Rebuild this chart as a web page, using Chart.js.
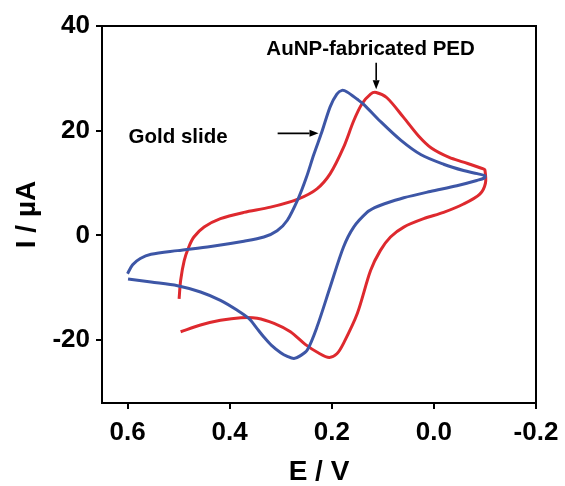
<!DOCTYPE html>
<html>
<head>
<meta charset="utf-8">
<title>Cyclic voltammograms</title>
<script src="https://cdn.jsdelivr.net/npm/chart.js"></script>
<style>
  html, body { margin: 0; padding: 0; background: #fff; }
  canvas { display: block; }
</style>
</head>
<body>
<canvas id="cv" width="565" height="486"></canvas>
<script>
// gold slide: forward sweep 0.6 -> -0.1 V, then back to 0.6 V
const goldE = [0.600, 0.590, 0.575, 0.554, 0.502, 0.437, 0.372, 0.333, 0.307, 0.287, 0.265, 0.250, 0.235, 0.220, 0.203, 0.190, 0.180,
  0.170, 0.150, 0.137, 0.105, 0.065, 0.025, -0.019, -0.058, -0.085, -0.100,
  -0.099, -0.084, -0.045, 0.007, 0.059, 0.098, 0.116, 0.131, 0.157, 0.177, 0.203, 0.229, 0.248, 0.262, 0.274,
  0.287, 0.300, 0.318, 0.333, 0.347, 0.362, 0.385, 0.418, 0.457, 0.502, 0.554, 0.599];
const goldI = [-7.3, -5.6, -4.4, -3.6, -2.9, -2.1, -1.1, -0.3, 0.9, 2.9, 7.2, 11.0, 15.5, 19.6, 24.6, 27.0, 27.7,
  27.4, 26.0, 25.0, 21.8, 18.2, 15.4, 13.6, 12.4, 11.8, 11.4,
  11.0, 10.5, 9.5, 8.4, 7.2, 6.0, 5.3, 4.4, 1.6, -2.2, -9.8, -17.5, -21.9, -23.0, -23.5,
  -23.1, -22.4, -21.0, -19.4, -17.7, -15.9, -14.3, -12.4, -10.8, -9.6, -8.9, -8.3];

// AuNP-fabricated PED: 0.5 -> -0.1 V and back to 0.5 V
const pedE = [0.499, 0.496, 0.489, 0.480, 0.470, 0.450, 0.418, 0.372, 0.320, 0.265, 0.229, 0.203, 0.177, 0.157, 0.141, 0.124, 0.113,
  0.092, 0.059, 0.030, 0.005, -0.030, -0.058, -0.097, -0.100,
  -0.101, -0.090, -0.058, -0.019, 0.020, 0.059, 0.085, 0.105, 0.124, 0.150, 0.177, 0.190, 0.205,
  0.225, 0.252, 0.281, 0.313, 0.346, 0.378, 0.418, 0.457, 0.496];
const pedI = [-12.1, -8.6, -4.8, -2.2, -0.3, 1.6, 3.2, 4.4, 5.4, 7.0, 8.9, 11.8, 16.8, 21.9, 25.1, 27.0, 27.3,
  26.3, 22.5, 19.0, 16.7, 14.9, 14.0, 12.7, 12.5,
  10.0, 7.9, 6.0, 4.4, 3.2, 1.6, -0.3, -2.9, -6.7, -14.9, -20.6, -22.6, -23.3,
  -22.5, -20.8, -18.4, -16.8, -15.8, -15.7, -16.2, -17.1, -18.4];

const xTicks = [0.6, 0.4, 0.2, 0.0, -0.2];
const yTicks = [40, 20, 0, -20];

const toPoints = (es, is) => es.map((e, i) => ({ x: e, y: is[i] }));

const FONT = "'Liberation Sans', Arial, sans-serif";

function arrow(ctx, x1, y1, x2, y2) {
  const ang = Math.atan2(y2 - y1, x2 - x1);
  const len = 9, half = 3.5;
  ctx.beginPath();
  ctx.moveTo(x1, y1);
  ctx.lineTo(x2 - Math.cos(ang) * len, y2 - Math.sin(ang) * len);
  ctx.stroke();
  ctx.beginPath();
  ctx.moveTo(x2, y2);
  ctx.lineTo(x2 - Math.cos(ang) * len - Math.sin(ang) * half, y2 - Math.sin(ang) * len + Math.cos(ang) * half);
  ctx.lineTo(x2 - Math.cos(ang) * len + Math.sin(ang) * half, y2 - Math.sin(ang) * len - Math.cos(ang) * half);
  ctx.closePath();
  ctx.fill();
}

// frame around the plot plus the two labels with their arrows
const frameAndLabels = {
  id: 'frameAndLabels',
  afterDatasetsDraw(chart) {
    const { ctx, chartArea: a, scales: { x, y } } = chart;
    ctx.save();
    ctx.strokeStyle = '#000';
    ctx.fillStyle = '#000';
    ctx.lineWidth = 2;
    ctx.strokeRect(a.left, a.top, a.right - a.left, a.bottom - a.top);

    ctx.font = 'bold 20.5px ' + FONT;
    ctx.textBaseline = 'middle';
    ctx.textAlign = 'left';
    ctx.fillText('Gold slide', x.getPixelForValue(0.598), y.getPixelForValue(18.7));
    ctx.textAlign = 'center';
    ctx.fillText('AuNP-fabricated PED', x.getPixelForValue(0.124), y.getPixelForValue(35.6));

    ctx.lineWidth = 1.6;
    arrow(ctx, x.getPixelForValue(0.306), y.getPixelForValue(19.5), x.getPixelForValue(0.226), y.getPixelForValue(19.5));
    arrow(ctx, x.getPixelForValue(0.113), y.getPixelForValue(33.0), x.getPixelForValue(0.113), y.getPixelForValue(27.9));
    ctx.restore();
  }
};

new Chart(document.getElementById('cv'), {
  type: 'scatter',
  data: {
    datasets: [
      {
        label: 'Gold slide',
        data: toPoints(goldE, goldI),
        showLine: true,
        borderColor: '#3d56a6',
        backgroundColor: '#3d56a6',
        borderWidth: 3,
        pointRadius: 0,
        tension: 0.3
      },
      {
        label: 'AuNP-fabricated PED',
        data: toPoints(pedE, pedI),
        showLine: true,
        borderColor: '#de292e',
        backgroundColor: '#de292e',
        borderWidth: 3,
        pointRadius: 0,
        tension: 0.3
      }
    ]
  },
  options: {
    responsive: false,
    animation: false,
    layout: { padding: { top: 26, right: 29, left: 0, bottom: 0 } },
    plugins: {
      legend: { display: false },
      tooltip: { enabled: false }
    },
    scales: {
      x: {
        type: 'linear',
        reverse: true,
        min: -0.2,
        max: 0.65,
        afterBuildTicks: (s) => { s.ticks = xTicks.map(v => ({ value: v })); },
        afterFit: (s) => { s.height = 83; s.paddingLeft = 0; s.paddingRight = 0; },
        border: { display: false },
        grid: { drawOnChartArea: false, drawTicks: true, tickLength: 6, color: '#000', lineWidth: 2 },
        ticks: {
          color: '#000',
          padding: 8,
          maxRotation: 0,
          font: { family: FONT, size: 26, weight: 'bold' },
          callback: (v) => Number(v).toFixed(1)
        },
        title: {
          display: true,
          text: 'E / V',
          color: '#000',
          padding: { top: 0, bottom: 0 },
          font: { family: FONT, size: 28, weight: 'bold', lineHeight: 1 }
        }
      },
      y: {
        type: 'linear',
        min: -32,
        max: 40,
        afterBuildTicks: (s) => { s.ticks = yTicks.map(v => ({ value: v })); },
        afterFit: (s) => { s.width = 102; s.paddingTop = 0; s.paddingBottom = 0; },
        border: { display: false },
        grid: { drawOnChartArea: false, drawTicks: true, tickLength: 6, color: '#000', lineWidth: 2 },
        ticks: {
          color: '#000',
          padding: 6,
          font: { family: FONT, size: 26, weight: 'bold' }
        },
        title: {
          display: true,
          text: 'I / µA',
          color: '#000',
          padding: { top: 13, bottom: 0 },
          font: { family: FONT, size: 28, weight: 'bold', lineHeight: 1 }
        }
      }
    }
  },
  plugins: [frameAndLabels]
});
</script>
</body>
</html>
